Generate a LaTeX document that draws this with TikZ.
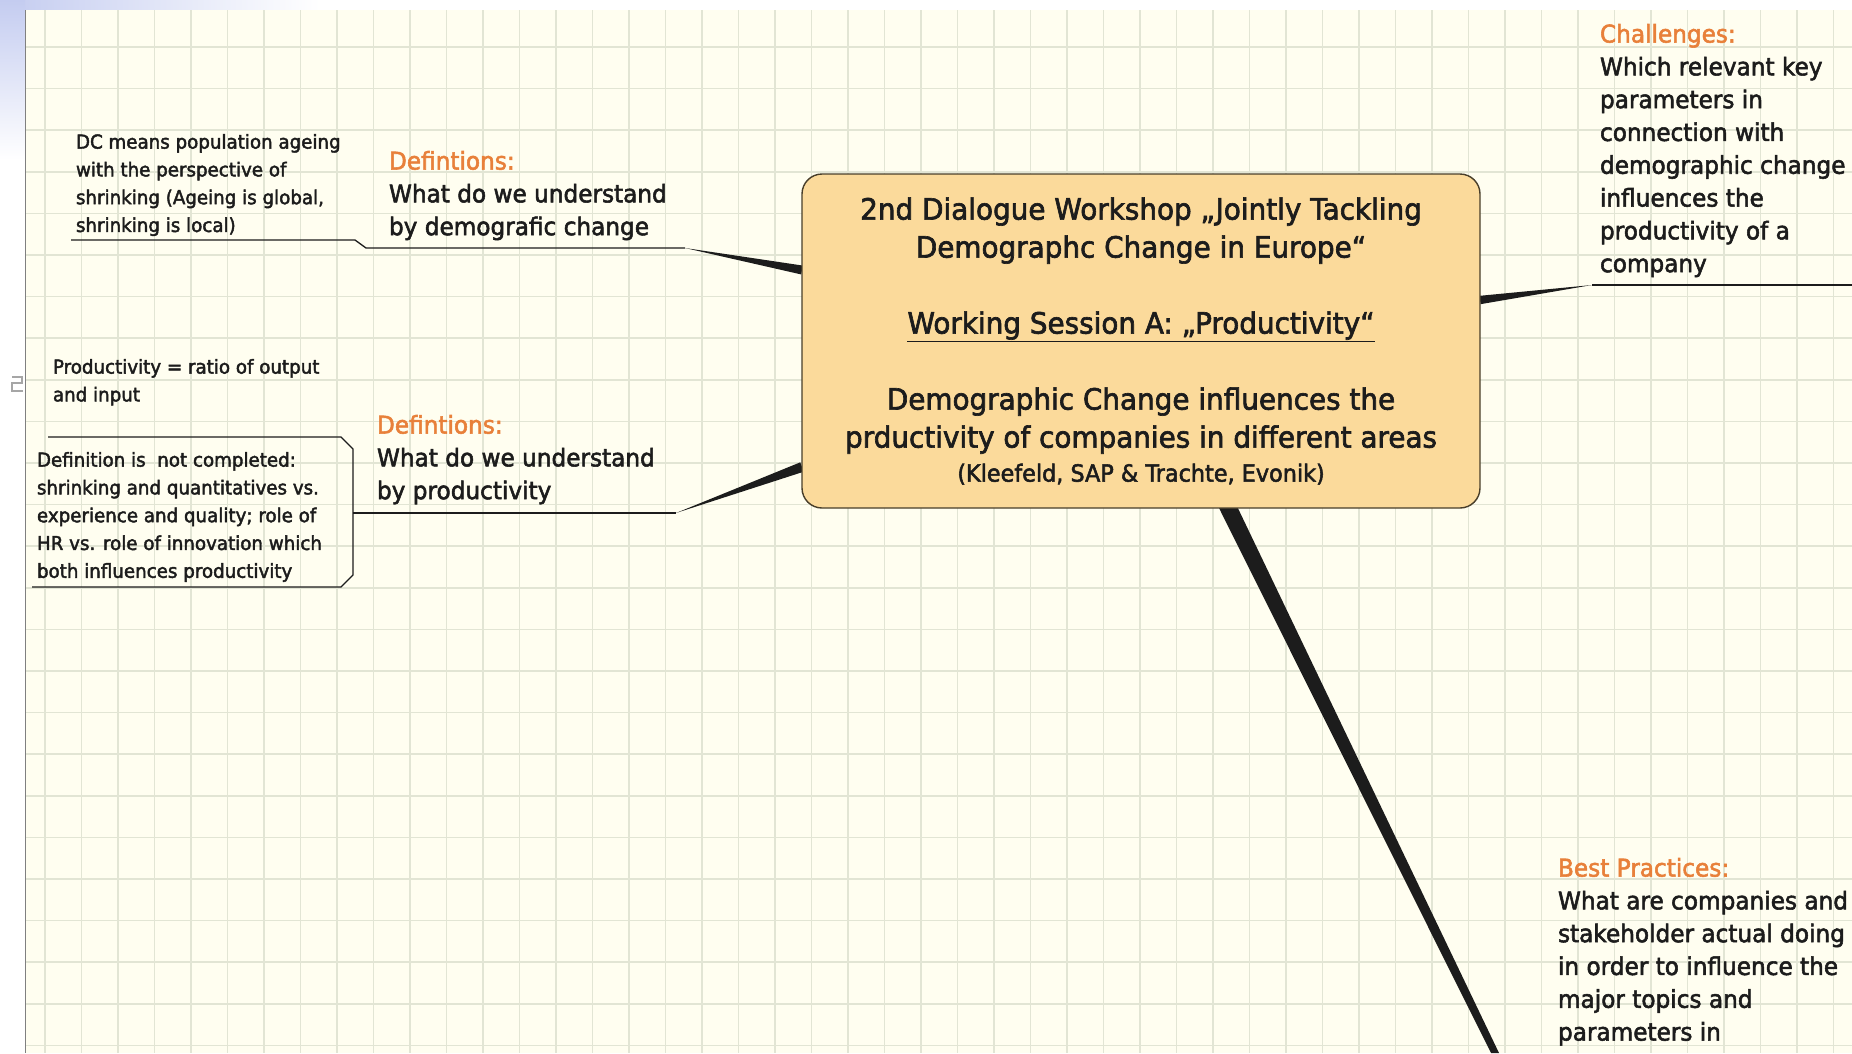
\documentclass[tikz,border=0pt]{standalone}
\usepackage{fontspec}
\setmainfont[FakeStretch=0.95, FakeBold=2.2]{DejaVu Sans}
\usepackage{xcolor}
\usetikzlibrary{calc}

\definecolor{paper}{RGB}{255,254,240}
\definecolor{gridline}{RGB}{226,229,212}
\definecolor{hubfill}{RGB}{251,218,155}
\definecolor{hubline}{RGB}{72,62,42}
\definecolor{headorange}{RGB}{232,128,58}
\definecolor{ink}{RGB}{28,28,28}
\definecolor{margin}{RGB}{196,204,240}

% tapered branch: tip at #1, wide end at #2, half width #3
\newcommand{\taper}[3]{\fill[ink] (#1) -- ($(#2)!#3!90:(#1)$) -- ($(#2)!#3!-90:(#1)$) -- cycle;}

\begin{document}
\begin{tikzpicture}[
    x=1pt, y=-1pt,
    every node/.style={inner sep=0pt, outer sep=0pt, text=ink},
    hub/.style={draw=hubline, line width=1.4pt, fill=hubfill, rounded corners=20pt,
      minimum width=678pt, minimum height=334pt, align=center,
      font=\fontsize{29.3}{38}\selectfont},
    topic/.style={anchor=north west, align=left, font=\fontsize{24.4}{32.8}\selectfont},
    note/.style={anchor=north west, align=left, font=\fontsize{19.2}{27.8}\selectfont},
    twig/.style={draw=ink, line width=1.3pt}]
  \useasboundingbox (0,0) rectangle (1852,1053);

  % BACKGROUND
  \fill[white] (0,0) rectangle (1852,1053);
  \shade[left color=margin, right color=white] (0,0) rectangle (320,10);
  \shade[top color=margin, bottom color=white] (0,0) rectangle (25,160);
  \fill[paper] (26,10) rectangle (1852,1053);
  \foreach \gx in {45,81.5,...,1852}
    \draw[gridline, line width=1.6pt] (\gx,10) -- (\gx,1053);
  \foreach \gy in {47,88.6,...,1053}
    \draw[gridline, line width=1.6pt] (26,\gy) -- (1852,\gy);
  \draw[gray, line width=1pt] (25.5,10) -- (25.5,1053);
  % small margin icon
  \draw[gray!70, line width=1.5pt] (12,377) -- (22,377) -- (22,383) -- (12,383) -- (12,391) -- (23,391);

  % COORDINATES
  \coordinate (hubA) at (802,270);
  \coordinate (hubB) at (802,467);
  \coordinate (hubC) at (1480,300);
  \coordinate (tipA) at (685,248);
  \coordinate (tipB) at (676,513);
  \coordinate (tipC) at (1592,285);
  \coordinate (joinA) at (366,248);
  \coordinate (joinB) at (353,513);

  % BRANCHES
  \taper{tipA}{hubA}{4.5pt}
  \taper{tipB}{hubB}{5pt}
  \taper{tipC}{hubC}{4.2pt}
  \fill[ink] (1215,500) -- (1234,500) -- (1499,1053) -- (1491,1053) -- cycle;

  % NODES
  % central node
  \node[hub] (hub) at (1141,341) {2nd Dialogue Workshop „Jointly Tackling\\
    Demographc Change in Europe“\\[38pt]
    \underline{Working Session A: „Productivity“}\\[38pt]
    Demographic Change influences the\\
    prductivity of companies in different areas\\[-4pt]
    {\fontsize{23.5}{36}\selectfont (Kleefeld, SAP \& Trachte, Evonik)}};
  % definitions: demographic change
  \node[topic] (defA) at (389,151) {\textcolor{headorange}{Defintions:}\\
    What do we understand\\by demografic change};
  \node[note] (noteDC) at (76,134) {DC means population ageing\\
    with the perspective of\\shrinking (Ageing is global,\\shrinking is local)};
  % definitions: productivity
  \node[topic] (defB) at (377,415) {\textcolor{headorange}{Defintions:}\\
    What do we understand\\by productivity};
  \node[note] (noteRatio) at (53,359) {Productivity = ratio of output\\and input};
  \node[note] (noteOpen) at (37,452) {Definition is \ not completed:\\
    shrinking and quantitatives vs.\\experience and quality; role of\\
    HR vs. role of innovation which\\both influences productivity};
  % challenges
  \node[topic] (chal) at (1600,24) {\textcolor{headorange}{Challenges:}\\
    Which relevant key\\parameters in\\connection with\\demographic change\\
    influences the\\productivity of a\\company};
  % best practices
  \node[topic] (best) at (1558,858) {\textcolor{headorange}{Best Practices:}\\
    What are companies and\\stakeholder actual doing\\in order to influence the\\
    major topics and\\parameters in};

  % LINES
  \draw[twig] (71,240) -- (355,240) -- (joinA) -- (tipA);
  \draw[twig] (joinB) -- (tipB);
  \draw[twig] (48,437) -- (341,437) -- (353,449) -- (joinB) -- (353,575) -- (341,587) -- (32,587);
  \draw[twig] (tipC) -- (1852,285);
\end{tikzpicture}
\end{document}
